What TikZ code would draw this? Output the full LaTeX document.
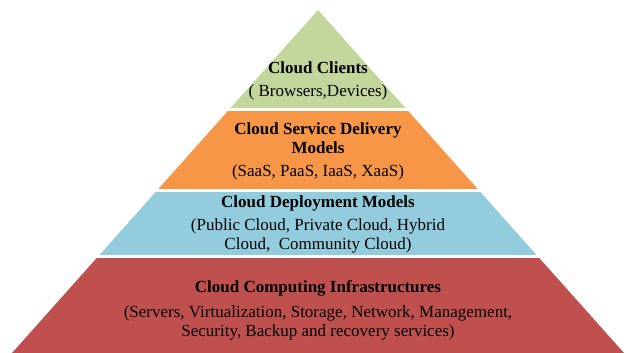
\documentclass[tikz,border=0pt]{standalone}
\usepackage{fontspec}
\setmainfont{Liberation Serif}
\usepackage{xcolor}
\usetikzlibrary{positioning}
\definecolor{clientgreen}{HTML}{C3D69B}
\definecolor{serviceorange}{HTML}{F79646}
\definecolor{deployblue}{HTML}{93CDDD}
\definecolor{infrared}{HTML}{C0504D}
\tikzset{
    title/.style={font=\fontsize{17}{19}\selectfont\bfseries, align=center, inner sep=0pt},
    items/.style={font=\fontsize{17}{19}\selectfont, align=center, inner sep=0pt}
}

\begin{document}
\begin{tikzpicture}[x=1pt,y=-1pt]
    \useasboundingbox (0,0) rectangle (627,353);
    % the pyramid, cut into four layers
    \begin{scope}
        \clip (318,10) -- (624,353) -- (12,353) -- cycle;
        \fill[clientgreen] (0,0) rectangle (627,108);
        \fill[serviceorange] (0,111) rectangle (627,189);
        \fill[deployblue] (0,192) rectangle (627,255);
        \fill[infrared] (0,258) rectangle (627,353);
    \end{scope}
    % top layer
    \node[title] (clients) at (318,68) {Cloud Clients};
    \node[items] (clientlist) at (318,92) {( Browsers,Devices)};
    % second layer
    \node[title] (delivery) at (318,138) {Cloud Service Delivery\\Models};
    \node[items] (deliverylist) at (318,172) {(SaaS, PaaS, IaaS, XaaS)};
    % third layer
    \node[title] (deployment) at (318,203) {Cloud Deployment Models};
    \node[items] (deploymentlist) at (318,236) {(Public Cloud, Private Cloud, Hybrid\\Cloud,\ \ Community Cloud)};
    % base layer
    \node[title] (infra) at (318,288) {Cloud Computing Infrastructures};
    \node[items] (infralist) at (318,323) {(Servers, Virtualization, Storage, Network, Management,\\Security, Backup and recovery services)};
\end{tikzpicture}
\end{document}
